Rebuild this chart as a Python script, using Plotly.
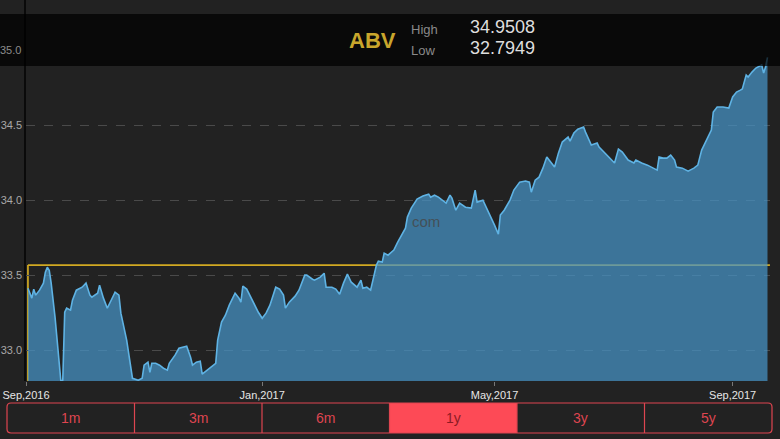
import plotly.graph_objects as go

symbol = "ABV"
high_value = "34.9508"
low_value = "32.7949"
ref_price = 33.567

dates = [
    "2016-09-02", "2016-09-04", "2016-09-05", "2016-09-06", "2016-09-08", "2016-09-10", "2016-09-11", "2016-09-12",
    "2016-09-13", "2016-09-14", "2016-09-16", "2016-09-18", "2016-09-19", "2016-09-20", "2016-09-21", "2016-09-22",
    "2016-09-24", "2016-09-25", "2016-09-27", "2016-09-30", "2016-10-02", "2016-10-04", "2016-10-05", "2016-10-08",
    "2016-10-09", "2016-10-11", "2016-10-13", "2016-10-15", "2016-10-17", "2016-10-19", "2016-10-20", "2016-10-23",
    "2016-10-25", "2016-10-26", "2016-10-29", "2016-10-31", "2016-11-01", "2016-11-03", "2016-11-04", "2016-11-05",
    "2016-11-07", "2016-11-09", "2016-11-11", "2016-11-13", "2016-11-14", "2016-11-17", "2016-11-19", "2016-11-21",
    "2016-11-23", "2016-11-25", "2016-11-26", "2016-11-28", "2016-11-30", "2016-12-01", "2016-12-03", "2016-12-06",
    "2016-12-08", "2016-12-09", "2016-12-11", "2016-12-13", "2016-12-15", "2016-12-18", "2016-12-20", "2016-12-21",
    "2016-12-22", "2016-12-24", "2016-12-26", "2016-12-28", "2016-12-30", "2017-01-01", "2017-01-03", "2017-01-05",
    "2017-01-07", "2017-01-08", "2017-01-10", "2017-01-12", "2017-01-13", "2017-01-15", "2017-01-18", "2017-01-20",
    "2017-01-23", "2017-01-24", "2017-01-27", "2017-01-28", "2017-01-31", "2017-02-02", "2017-02-03", "2017-02-06",
    "2017-02-08", "2017-02-10", "2017-02-12", "2017-02-14", "2017-02-16", "2017-02-18", "2017-02-19", "2017-02-21",
    "2017-02-22", "2017-02-24", "2017-02-26", "2017-03-01", "2017-03-02", "2017-03-04", "2017-03-05", "2017-03-07",
    "2017-03-09", "2017-03-10", "2017-03-12", "2017-03-14", "2017-03-16", "2017-03-17", "2017-03-19", "2017-03-21",
    "2017-03-22", "2017-03-25", "2017-03-28", "2017-03-29", "2017-03-31", "2017-04-02", "2017-04-04", "2017-04-06",
    "2017-04-08", "2017-04-09", "2017-04-11", "2017-04-13", "2017-04-16", "2017-04-19", "2017-04-21", "2017-04-22",
    "2017-04-25", "2017-04-27", "2017-04-29", "2017-05-01", "2017-05-03", "2017-05-04", "2017-05-06", "2017-05-09",
    "2017-05-11", "2017-05-14", "2017-05-17", "2017-05-19", "2017-05-20", "2017-05-22", "2017-05-24", "2017-05-26",
    "2017-05-28", "2017-05-30", "2017-06-01", "2017-06-03", "2017-06-05", "2017-06-08", "2017-06-09", "2017-06-11",
    "2017-06-13", "2017-06-16", "2017-06-17", "2017-06-20", "2017-06-23", "2017-06-24", "2017-06-27", "2017-06-30",
    "2017-07-02", "2017-07-04", "2017-07-06", "2017-07-09", "2017-07-12", "2017-07-13", "2017-07-16", "2017-07-19",
    "2017-07-22", "2017-07-24", "2017-07-25", "2017-07-27", "2017-07-29", "2017-07-31", "2017-08-02", "2017-08-03",
    "2017-08-06", "2017-08-09", "2017-08-12", "2017-08-14", "2017-08-16", "2017-08-19", "2017-08-21", "2017-08-22",
    "2017-08-24", "2017-08-27", "2017-08-30", "2017-09-01", "2017-09-03", "2017-09-05", "2017-09-06", "2017-09-08",
    "2017-09-09", "2017-09-11", "2017-09-13", "2017-09-16", "2017-09-17", "2017-09-18", "2017-09-19",
]

prices = [
    33.413, 33.347, 33.407, 33.367, 33.400, 33.447, 33.520, 33.553,
    33.533, 33.447, 33.220, 32.953, 32.7949, 32.800, 33.253, 33.280,
    33.267, 33.333, 33.400, 33.420, 33.447, 33.367, 33.353, 33.380,
    33.433, 33.347, 33.280, 33.333, 33.387, 33.367, 33.247, 33.067,
    32.887, 32.813, 32.800, 32.813, 32.900, 32.920, 32.853, 32.913,
    32.913, 32.900, 32.880, 32.867, 32.913, 32.967, 33.013, 33.020,
    33.027, 32.953, 32.900, 32.920, 32.927, 32.840, 32.860, 32.887,
    32.913, 33.067, 33.187, 33.233, 33.300, 33.380, 33.347, 33.320,
    33.427, 33.407, 33.353, 33.300, 33.253, 33.213, 33.247, 33.300,
    33.380, 33.420, 33.407, 33.367, 33.280, 33.320, 33.360, 33.400,
    33.500, 33.500, 33.473, 33.467, 33.487, 33.513, 33.420, 33.420,
    33.407, 33.373, 33.447, 33.507, 33.453, 33.433, 33.420, 33.467,
    33.413, 33.420, 33.400, 33.567, 33.593, 33.587, 33.647, 33.633,
    33.653, 33.667, 33.720, 33.767, 33.813, 33.887, 33.947, 33.987,
    34.007, 34.027, 34.040, 34.020, 34.033, 34.020, 34.000, 33.980,
    34.033, 34.013, 33.933, 33.980, 33.953, 33.947, 34.067, 33.987,
    34.000, 33.947, 33.887, 33.833, 33.773, 33.900, 33.933, 34.000,
    34.067, 34.120, 34.127, 34.120, 34.053, 34.133, 34.153, 34.213,
    34.287, 34.253, 34.220, 34.313, 34.387, 34.420, 34.393, 34.447,
    34.473, 34.487, 34.453, 34.367, 34.380, 34.353, 34.313, 34.280,
    34.247, 34.340, 34.320, 34.267, 34.247, 34.267, 34.247, 34.233,
    34.213, 34.200, 34.287, 34.280, 34.280, 34.300, 34.267, 34.220,
    34.213, 34.193, 34.213, 34.233, 34.333, 34.413, 34.467, 34.587,
    34.620, 34.620, 34.613, 34.687, 34.720, 34.733, 34.740, 34.833,
    34.820, 34.853, 34.880, 34.900, 34.847, 34.887, 34.9508,
]

x_tick_vals = ["2016-09-01", "2017-01-01", "2017-05-01", "2017-09-01"]
x_tick_text = ["Sep,2016", "Jan,2017", "May,2017", "Sep,2017"]
y_tick_vals = [33.0, 33.5, 34.0, 34.5]
y_top_tick = 35.0
buttons = ["1m", "3m", "6m", "1y", "3y", "5y"]
selected = "1y"

W, H = 780, 439
ML, MR, MT, MB = 26, 10, 0, 58
PW, PH = W - ML - MR, H - MT - MB
Y_MIN, Y_MAX = 32.7949, 35.3333


def px(x):
    return (x - ML) / PW


def py(y):
    return 1 - (y - MT) / PH


BG = "#222222"
RED = "#de4550"
FONT = "Liberation Sans, Arial, sans-serif"

fig = go.Figure()
fig.add_trace(go.Scatter(
    x=dates, y=prices, mode="lines",
    line=dict(color="#5fb3e4", width=1.6),
    fill="tozeroy", fillcolor="rgba(70,148,200,0.72)",
    hoverinfo="skip", showlegend=False,
))

shapes = []
shapes.append(dict(
    type="line", xref="x", yref="y", x0=dates[0], x1="2017-09-20 06:00",
    y0=ref_price, y1=ref_price, line=dict(color="#d1a922", width=1.7), layer="below"))
shapes.append(dict(
    type="line", xref="x", yref="y", x0=dates[0], x1=dates[0],
    y0=Y_MIN, y1=ref_price, line=dict(color="#d1a922", width=1.7), layer="below"))
# header band
shapes.append(dict(
    type="rect", xref="paper", yref="paper", x0=px(0), x1=px(W), y0=py(66), y1=py(14),
    fillcolor="rgba(0,0,0,0.72)", line=dict(width=0), layer="above"))

# button bar
bx0, bx1, by0, by1 = 7, 772, 403, 433
bw = (bx1 - bx0) / len(buttons)
si = buttons.index(selected)
shapes.append(dict(
    type="rect", xref="paper", yref="paper",
    x0=px(bx0 + si * bw), x1=px(bx0 + (si + 1) * bw), y0=py(by1), y1=py(by0),
    fillcolor="#fd4a56", line=dict(width=0), layer="above"))
r = 4
path = (
    f"M {px(bx0 + r)},{py(by0)} L {px(bx1 - r)},{py(by0)} "
    f"Q {px(bx1)},{py(by0)} {px(bx1)},{py(by0 + r)} L {px(bx1)},{py(by1 - r)} "
    f"Q {px(bx1)},{py(by1)} {px(bx1 - r)},{py(by1)} L {px(bx0 + r)},{py(by1)} "
    f"Q {px(bx0)},{py(by1)} {px(bx0)},{py(by1 - r)} L {px(bx0)},{py(by0 + r)} "
    f"Q {px(bx0)},{py(by0)} {px(bx0 + r)},{py(by0)} Z"
)
shapes.append(dict(type="path", xref="paper", yref="paper", path=path,
                   line=dict(color=RED, width=1.2), layer="above"))
for i in range(1, len(buttons)):
    xx = bx0 + i * bw
    shapes.append(dict(type="line", xref="paper", yref="paper", x0=px(xx), x1=px(xx),
                       y0=py(by1), y1=py(by0), line=dict(color=RED, width=1.2), layer="above"))

annotations = []
for i, b in enumerate(buttons):
    annotations.append(dict(
        x=px(bx0 + (i + 0.5) * bw), y=py((by0 + by1) / 2), xref="paper", yref="paper",
        text=b, showarrow=False, xanchor="center", yanchor="middle",
        font=dict(family=FONT, size=14, color="#8c1b24" if b == selected else RED)))

annotations += [
    dict(x=px(372), y=py(40), xref="paper", yref="paper", text=f"<b>{symbol}</b>", showarrow=False,
         xanchor="center", yanchor="middle", font=dict(family=FONT, size=22, color="#c9a62c")),
    dict(x=px(409), y=py(29), xref="paper", yref="paper", text="High", showarrow=False,
         xanchor="left", yanchor="middle", font=dict(family=FONT, size=13, color="#8a8a8a")),
    dict(x=px(409), y=py(50), xref="paper", yref="paper", text="Low", showarrow=False,
         xanchor="left", yanchor="middle", font=dict(family=FONT, size=13, color="#8a8a8a")),
    dict(x=px(468), y=py(27), xref="paper", yref="paper", text=high_value, showarrow=False,
         xanchor="left", yanchor="middle", font=dict(family=FONT, size=18, color="#dedede")),
    dict(x=px(468), y=py(48), xref="paper", yref="paper", text=low_value, showarrow=False,
         xanchor="left", yanchor="middle", font=dict(family=FONT, size=18, color="#dedede")),
    dict(x=px(426), y=py(221), xref="paper", yref="paper", text="com", showarrow=False,
         xanchor="center", yanchor="middle", font=dict(family=FONT, size=15, color="rgba(70,70,70,0.8)")),
    dict(x=0, y=y_top_tick, xref="paper", yref="y", text=f"{y_top_tick:.1f}", showarrow=False,
         xanchor="right", yanchor="middle", xshift=-3,
         font=dict(family=FONT, size=11, color="#8c8c8c")),
]

fig.update_layout(
    width=W, height=H,
    margin=dict(l=ML, r=MR, t=MT, b=MB, pad=0),
    paper_bgcolor=BG, plot_bgcolor=BG,
    shapes=shapes, annotations=annotations,
    showlegend=False,
    xaxis=dict(
        type="date", range=["2016-09-01", "2017-09-20 07:00"],
        tickvals=x_tick_vals, ticktext=x_tick_text,
        showgrid=False, zeroline=False, showline=False,
        ticks="outside", ticklen=4, tickcolor="#777777", tickwidth=1,
        tickfont=dict(family=FONT, size=11, color="#e6e6e6"),
    ),
    yaxis=dict(
        range=[Y_MIN, Y_MAX], tickvals=y_tick_vals, tickformat=".1f",
        showgrid=True, gridcolor="#4a4a4a", griddash="dash", gridwidth=1,
        zeroline=False, showline=True, linecolor="#0a0a0a", linewidth=1.5,
        ticks="", tickfont=dict(family=FONT, size=11, color="#a8a8a8"),
    ),
)

fig.write_html(
    "out.html",
    config={"displayModeBar": False},
    post_script="document.body.style.margin='0';document.body.style.overflow='hidden';",
)
